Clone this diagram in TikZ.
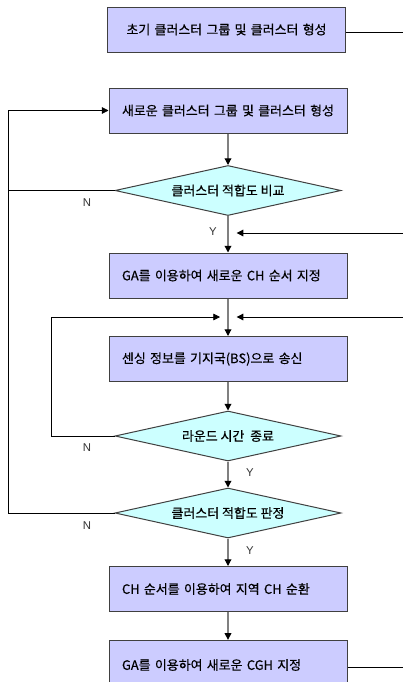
\documentclass[tikz,border=0pt]{standalone}
\usepackage{fontspec}
\setmainfont[FakeBold=0.5]{Noto Sans CJK KR}
\newfontfamily\lblfont{Liberation Sans}
\usetikzlibrary{shapes.geometric,arrows.meta,calc}
\definecolor{boxfill}{RGB}{204,204,255}
\definecolor{diafill}{RGB}{204,255,255}
\definecolor{boxline}{RGB}{64,64,64}
\definecolor{vline}{RGB}{128,128,128}
\tikzset{
  procbox/.style={rectangle, draw=boxline, line width=0.75pt, fill=boxfill,
    minimum width=178.5pt, minimum height=33.75pt, inner xsep=9.75pt,
    text width=159pt, align=left, font=\fontsize{9.7}{11}\selectfont},
  procboxc/.style={procbox, inner xsep=3pt, text width=172pt, align=center},
  decision/.style={diamond, draw=boxline, line width=0.75pt, fill=diafill,
    aspect=4.52, inner sep=0pt, minimum width=169.5pt, minimum height=37.5pt,
    font=\fontsize{9.7}{11}\selectfont},
  vflow/.style={draw=vline, line width=0.9pt, -{Triangle[length=5pt,width=5pt,color=black]}},
  hflow/.style={draw=black, line width=0.6pt},
  harrow/.style={hflow, -{Triangle[length=5pt,width=5pt,color=black]}},
  yn/.style={font=\lblfont\fontsize{8.5}{10}\selectfont, text=black!80, inner sep=0pt}
}
\begin{document}
\begin{tikzpicture}[x=0.75pt,y=-0.75pt]
\useasboundingbox (0,0) rectangle (403,682);
\clip (0,0) rectangle (403,682);
\fill[white] (0,0) rectangle (403,682);

\node[procboxc] (b1) at (226.5,29.5) {초기 클러스터 그룹 및 클러스터 형성};
\node[procboxc] (b2) at (228,110.5) {새로운 클러스터 그룹 및 클러스터 형성};
\node[decision] (d1) at (228,190.5) {클러스터 적합도 비교};
\node[procbox] (b3) at (228,275.5) {GA를 이용하여 새로운 CH 순서 지정};
\node[procbox] (b4) at (228,359) {센싱 정보를 기지국(BS)으로 송신};
\node[decision] (d2) at (228,436) {라운드 시간\ \ 종료};
\node[decision] (d3) at (228,513) {클러스터 적합도 판정};
\node[procbox] (b5) at (228,589) {CH 순서를 이용하여 지역 CH 순환};
\node[procbox, minimum height=37pt] (b6) at (228,665) {GA를 이용하여 새로운 CGH 지정};

% free ends / helper coordinates
\coordinate (R) at (403,0);
\coordinate (L1) at (8,0);
\coordinate (L2) at (51,0);
\coordinate (m0) at (228,233);
\coordinate (m1) at (228,317);

% vertical flow
\draw[vflow] (b2.south) -- (d1.north);
\draw[vflow] (d1.south) -- (b3.north);
\draw[vflow] (b3.south) -- (b4.north);
\draw[vflow] (b4.south) -- (d2.north);
\draw[vflow] (d2.south) -- (d3.north);
\draw[vflow] (d3.south) -- (b5.north);
\draw[vflow] (b5.south) -- (b6.north);

% right side lines
\draw[hflow] ([yshift=-2pt]b1.east) -- ([yshift=-2pt]b1.east -| R);
\draw[hflow] ([yshift=-1.5pt]b6.east) -- ([yshift=-1.5pt]b6.east -| R);
\draw[harrow] (m0 -| R) -- ([xshift=6.5pt]m0);
\draw[harrow] (m1 -| R) -- ([xshift=6.5pt]m1);

% left loops
\draw[hflow] (d1.west) -- (d1.west -| L1);
\draw[harrow] (d3.west) -- (d3.west -| L1) |- (b2.west);
\draw[harrow] (d2.west) -- (d2.west -| L2) |- ([xshift=-6pt]m1);

% labels
\node[yn] (y1) at (213,232) {Y};
\node[yn] (y2) at (250,473) {Y};
\node[yn] (y3) at (250,551) {Y};
\node[yn] (n1) at (87,203) {N};
\node[yn] (n2) at (87,448) {N};
\node[yn] (n3) at (87,526) {N};
\end{tikzpicture}
\end{document}
